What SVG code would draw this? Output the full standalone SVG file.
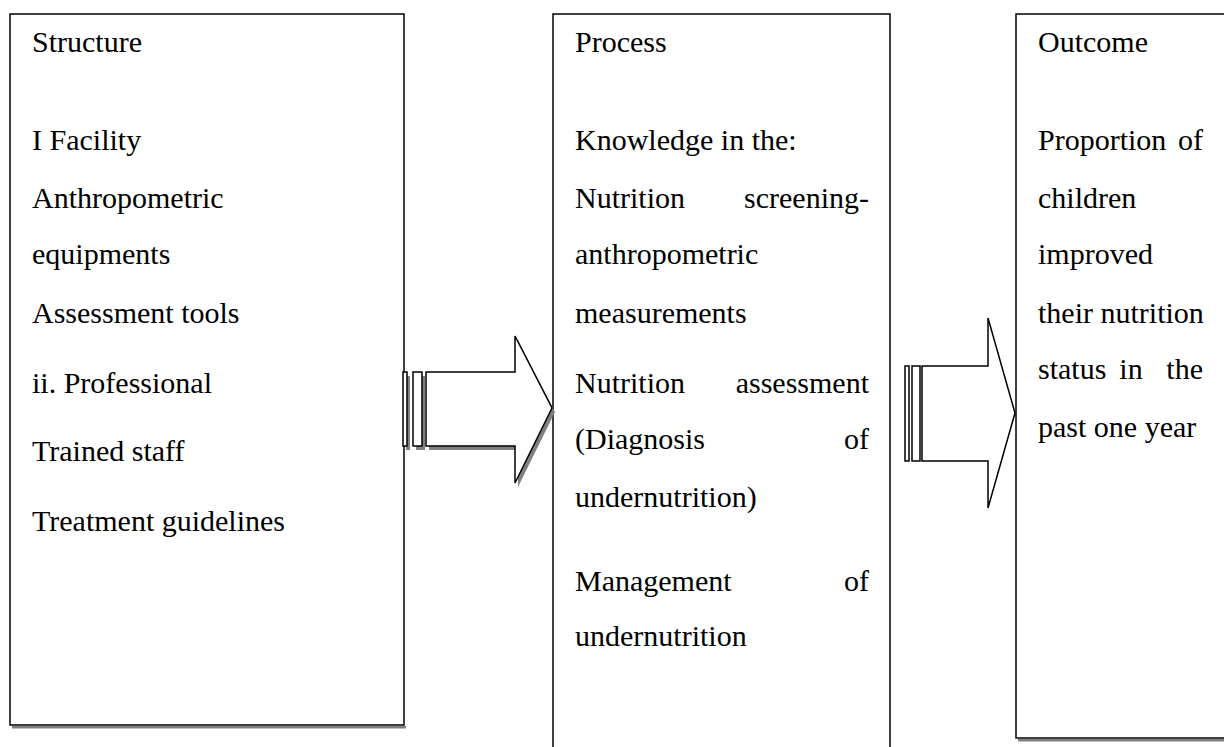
<svg xmlns="http://www.w3.org/2000/svg" width="1224" height="747" viewBox="0 0 1224 747">
<style>
.box{fill:#fff;stroke:#000;stroke-width:1.5}
.shadow{fill:#808080;stroke:none}
.arr{fill:#fff;stroke:#000;stroke-width:1.5;stroke-linejoin:miter}
text{font-family:"Liberation Serif","Times New Roman",serif;font-size:30px;fill:#000}
.r{text-anchor:end}
.m{text-anchor:middle}
</style>
<rect width="1224" height="747" fill="#fff"/>
<g id="structure">
<rect class="shadow" x="12" y="726" width="394" height="2.5"/>
<rect class="box" x="10" y="14" width="394" height="711"/>
<text x="32" y="52">Structure</text>
<text x="32" y="150">I Facility</text>
<text x="32" y="208">Anthropometric</text>
<text x="32" y="264">equipments</text>
<text x="32" y="323">Assessment tools</text>
<text x="32" y="393">ii. Professional</text>
<text x="32" y="461">Trained staff</text>
<text x="32" y="531">Treatment guidelines</text>
</g>
<g id="process">
<rect class="box" x="553" y="14" width="337" height="740"/>
<text x="575" y="52">Process</text>
<text x="575" y="150">Knowledge in the:</text>
<text x="575" y="208">Nutrition</text><text class="r" x="869" y="208">screening-</text>
<text x="575" y="264">anthropometric</text>
<text x="575" y="323">measurements</text>
<text x="575" y="393">Nutrition</text><text class="r" x="869" y="393">assessment</text>
<text x="575" y="449">(Diagnosis</text><text class="r" x="869" y="449">of</text>
<text x="575" y="507">undernutrition)</text>
<text x="575" y="591">Management</text><text class="r" x="869" y="591">of</text>
<text x="575" y="646">undernutrition</text>
</g>
<g id="outcome">
<rect class="shadow" x="1018" y="739" width="210" height="2.5"/>
<rect class="box" x="1016" y="14" width="220" height="724"/>
<text x="1038" y="52">Outcome</text>
<text x="1038" y="150">Proportion</text><text class="r" x="1203" y="150">of</text>
<text x="1038" y="208">children</text>
<text x="1038" y="264">improved</text>
<text x="1038" y="323">their nutrition</text>
<text x="1038" y="379">status</text><text class="m" x="1131" y="379">in</text><text class="r" x="1203" y="379">the</text>
<text x="1038" y="437">past one year</text>
</g>
<g id="connectors">
<g id="arrow1">
<g class="shadow" transform="translate(3,4)">
<rect x="403" y="372" width="4" height="74"/>
<rect x="413" y="372" width="9" height="74"/>
<polygon points="426,372 515,372 515,336 552,408 515,483 515,446 426,446"/>
</g>
<rect class="arr" x="403" y="372" width="4" height="74"/>
<rect class="arr" x="413" y="372" width="9" height="74"/>
<polygon class="arr" points="426,372 515,372 515,336 552,408 515,483 515,446 426,446"/>
</g>
<g id="arrow2">
<rect class="arr" x="905" y="366" width="4" height="95"/>
<rect class="arr" x="912" y="366" width="8" height="95"/>
<polygon class="arr" points="922,366 988,366 988,318 1015,413 988,508 988,461 922,461"/>
</g>
</g>
</svg>
